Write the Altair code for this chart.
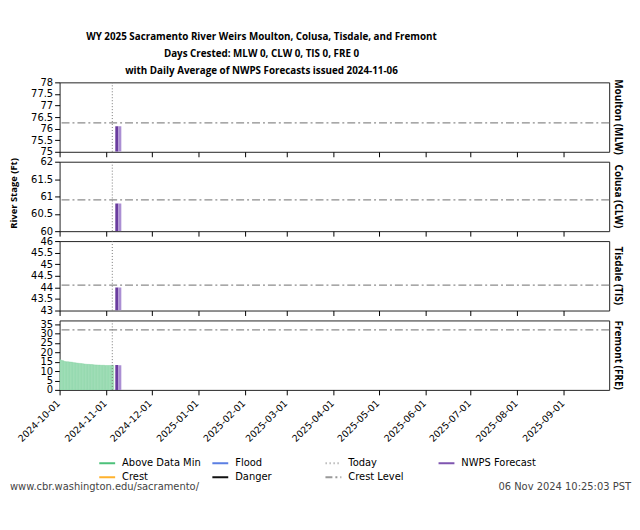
import altair as alt
import pandas as pd

# ---------------- data ----------------
stations = ["Moulton (MLW)", "Colusa (CLW)", "Tisdale (TIS)", "Fremont (FRE)"]
y_min = [75, 60, 43, 0]
y_max = [78, 62, 46, 37]
y_ticks = [
    [75, 75.5, 76, 76.5, 77, 77.5, 78],
    [60, 60.5, 61, 61.5, 62],
    [43, 43.5, 44, 44.5, 45, 45.5, 46],
    [0, 5, 10, 15, 20, 25, 30, 35],
]
crest_level = [76.25, 60.9, 44.1, 32.0]

forecast_start = ["2024-11-07", "2024-11-09"]
forecast_end = ["2024-11-09", "2024-11-11"]
forecast_shade = ["first", "second"]
forecast_values = [
    [76.1, 76.1],
    [60.8, 60.8],
    [44.0, 44.0],
    [13.3, 13.1],
]
today = "2024-11-05"

fre_obs_dates = pd.date_range("2024-10-01", "2024-11-05", freq="D")
fre_obs_values = [16.0, 15.7, 15.5, 15.1, 15.0, 15.0, 14.9, 14.8, 14.7, 14.5,
                  14.4, 14.3, 14.2, 14.1, 14.0, 13.9, 13.8, 13.7, 13.6, 13.6,
                  13.5, 13.5, 13.4, 13.3, 13.3, 13.2, 13.2, 13.1, 13.1, 13.1,
                  13.0, 13.0, 13.0, 13.0, 13.1, 13.1]

# legend entries (filled column by column, two rows)
legend_names = ["Above Data Min", "Crest", "Flood", "Danger",
                "Today", "Crest Level", "NWPS Forecast"]
legend_colors = ["#4cc17a", "#ffb22e", "#5b7fe3", "#111111",
                 "#bbbbbb", "#999999", "#7f55b0"]
legend_dashes = [[1, 0], [1, 0], [1, 0], [1, 0], [1.5, 2.5], [7, 3, 2, 3], [1, 0]]

title_lines = [
    "WY 2025 Sacramento River Weirs Moulton, Colusa, Tisdale, and Fremont",
    "Days Crested: MLW 0, CLW 0, TIS 0, FRE 0",
    "with Daily Average of NWPS Forecasts issued 2024-11-06",
]
footer_left = "www.cbr.washington.edu/sacramento/"
footer_right = "06 Nov 2024 10:25:03 PST"
y_title = "River Stage (Ft)"

# ---------------- layout ----------------
W, H = 554, 70
month_list = [(2024, 10), (2024, 11), (2024, 12)] + [(2025, m) for m in range(1, 10)]
month_ticks = [alt.DateTime(year=y, month=m, date=1, utc=True) for y, m in month_list]
x_dom = [alt.DateTime(year=2024, month=10, date=1, utc=True),
         alt.DateTime(year=2025, month=10, date=1, utc=True)]


def xenc(field, bottom):
    return alt.X(field, type="temporal",
                 scale=alt.Scale(type="utc", domain=x_dom),
                 axis=alt.Axis(values=month_ticks,
                               labelExpr="utcFormat(datum.value, '%Y-%m-%d')",
                               labelAngle=-45, labels=bottom, title=None, domain=False,
                               grid=False, tickSize=5, tickColor="black",
                               labelFont="DejaVu Sans", labelFontSize=9.5,
                               labelColor="black", labelOverlap=False, labelPadding=3,
                               labelOffset=-5))


def yenc(field, i):
    return alt.Y(field, type="quantitative",
                 scale=alt.Scale(domain=[y_min[i], y_max[i]], zero=False, nice=False),
                 axis=alt.Axis(values=y_ticks[i], format="~g", title=None, grid=False,
                               domain=False, tickSize=5, tickColor="black",
                               labelFont="DejaVu Sans", labelFontSize=10,
                               labelColor="black", labelPadding=2, labelOverlap=False))


panels = []
for i, name in enumerate(stations):
    bottom = i == len(stations) - 1
    layers = []
    if bottom:
        obs = pd.DataFrame({
            "d": fre_obs_dates.strftime("%Y-%m-%d"),
            "d2": (fre_obs_dates + pd.Timedelta(days=1)).strftime("%Y-%m-%d"),
            "v": fre_obs_values,
        })
        layers.append(alt.Chart(obs).mark_bar(color="#a3dfba", stroke="#7fd09f",
                                              strokeWidth=0.4, clip=True).encode(
            x=xenc("d", bottom), x2="d2", y=yenc("v", i), y2=alt.datum(y_min[i])))
    fc = pd.DataFrame({"d": forecast_start, "d2": forecast_end,
                       "v": forecast_values[i], "shade": forecast_shade})
    layers.append(alt.Chart(fc).mark_bar(clip=True).encode(
        x=xenc("d", bottom), x2="d2", y=yenc("v", i), y2=alt.datum(y_min[i]),
        fill=alt.Fill("shade:N", scale=alt.Scale(domain=forecast_shade,
                                                  range=["#6a3d9f", "#ab8fd3"]),
                      legend=None)))
    crest = pd.DataFrame({"c": [crest_level[i]]})
    layers.append(alt.Chart(crest).mark_rule(color="#8c8c8c", strokeWidth=1.3,
                                             strokeDash=[8, 3, 2, 3]).encode(
        y=yenc("c", i)))
    td = pd.DataFrame({"t": [today]})
    layers.append(alt.Chart(td).mark_rule(color="#777777", strokeWidth=1,
                                          strokeDash=[1, 2]).encode(x=xenc("t", bottom)))
    lab = pd.DataFrame({"s": [name]})
    layers.append(alt.Chart(lab).mark_text(angle=90, font="Open Sans", fontWeight="bold",
                                           fontSize=10, align="center", baseline="middle",
                                           color="black").encode(
        x=alt.value(W + 9), y=alt.value(H / 2), text="s:N"))
    if i == 1:
        yt = pd.DataFrame({"s": [y_title]})
        layers.append(alt.Chart(yt).mark_text(angle=270, font="Open Sans", fontWeight="bold",
                                              fontSize=9.5, align="center",
                                              baseline="middle", color="black").encode(
            x=alt.value(-46), y=alt.value(H / 2 - 3), text="s:N"))
    if bottom:
        leg = pd.DataFrame({"series": legend_names, "d": ["2024-10-01"] * len(legend_names),
                            "v": [y_min[i]] * len(legend_names)})
        legend = alt.Legend(title=None, orient="none", legendX=39, legendY=375,
                            columns=4, gridAlign="all", columnPadding=7, rowPadding=-3,
                            symbolType="stroke", symbolSize=256, symbolStrokeWidth=2,
                            labelFont="DejaVu Sans", labelFontSize=10, labelColor="black",
                            labelOffset=6)
        layers.append(alt.Chart(leg).mark_line().encode(
            x=xenc("d", bottom), y=yenc("v", i),
            color=alt.Color("series:N", scale=alt.Scale(domain=legend_names,
                                                        range=legend_colors),
                            legend=legend),
            strokeDash=alt.StrokeDash("series:N", scale=alt.Scale(domain=legend_names,
                                                                  range=legend_dashes),
                                      legend=legend)))
        fl = pd.DataFrame({"s": [footer_left]})
        layers.append(alt.Chart(fl).mark_text(font="DejaVu Sans", fontSize=10,
                                              align="left", baseline="middle",
                                              color="#444444").encode(
            x=alt.value(-50), y=alt.value(168), text="s:N"))
        fr = pd.DataFrame({"s": [footer_right]})
        layers.append(alt.Chart(fr).mark_text(font="DejaVu Sans", fontSize=10,
                                              align="right", baseline="middle",
                                              color="#444444").encode(
            x=alt.value(576), y=alt.value(168), text="s:N"))
    panels.append(alt.layer(*layers).properties(width=W, height=H))

chart = alt.vconcat(*panels, spacing=10, bounds="flush").resolve_scale(
    x="independent", y="independent"
).properties(
    title=alt.TitleParams(text=title_lines, font="Open Sans", fontWeight="bold",
                          fontSize=9.9, lineHeight=17, anchor="middle", dx=-59,
                          offset=1, color="black"),
    padding={"left": 0, "top": 22, "right": 0, "bottom": 0},
    background="white",
).configure_view(stroke="#222222", strokeWidth=1)

chart.save("out.html", embed_options={"renderer": "svg", "actions": False})
